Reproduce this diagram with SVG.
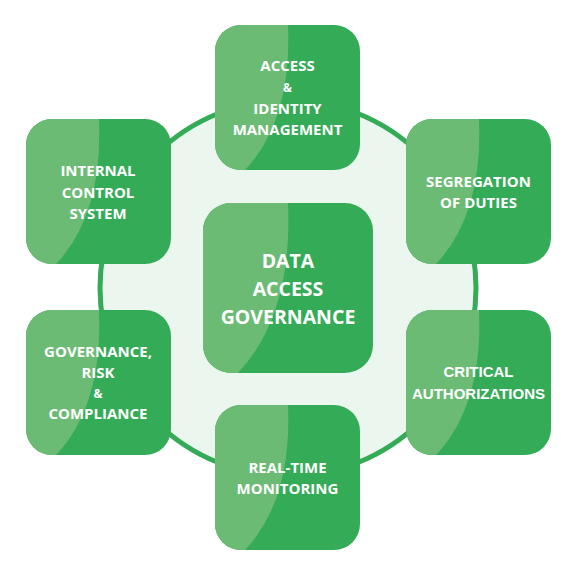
<svg xmlns="http://www.w3.org/2000/svg" xmlns:xlink="http://www.w3.org/1999/xlink" width="576" height="576" viewBox="0 0 576 576">
<style>
.box{fill:#34ab57}
.hl{fill:#6cbb75}
.ring{fill:#eaf6ee;stroke:#34ab57;stroke-width:5}
.t{fill:#ffffff;font-family:"Open Sans","DejaVu Sans",sans-serif;font-weight:700;font-size:15px;text-anchor:middle}
.amp{font-size:12px}
.c{font-family:"Open Sans","DejaVu Sans",sans-serif;font-weight:700;font-size:19.5px}
.a{font-family:"Liberation Sans",Arial,sans-serif;font-weight:700;font-size:15px}
</style>
<defs>
<path id="hl" class="hl" d="M26,0 H73 Q77,95 30,145 H26 A26,26 0 0 1 0,119 V26 A26,26 0 0 1 26,0 Z"/>
<rect id="bx" class="box" width="145" height="145" rx="26"/>
</defs>
<rect width="576" height="576" fill="#ffffff"/>
<g id="connectors">
<circle class="ring" cx="288" cy="288" r="188"/>
</g>
<g id="center" transform="translate(203,203)">
<rect class="box" width="170" height="170" rx="28"/>
<path class="hl" d="M28,0 H85 Q90,111 35,170 H28 A28,28 0 0 1 0,142 V28 A28,28 0 0 1 28,0 Z"/>
<text class="t c" x="85" y="65">DATA</text>
<text class="t c" x="85" y="93">ACCESS</text>
<text class="t c" x="85" y="120.5">GOVERNANCE</text>
</g>
<g id="access" transform="translate(215,25)">
<use xlink:href="#bx"/><use xlink:href="#hl"/>
<text class="t" x="72.5" y="46">ACCESS</text>
<text class="t amp" x="72.5" y="67">&amp;</text>
<text class="t" x="72.5" y="89">IDENTITY</text>
<text class="t" x="72.5" y="110">MANAGEMENT</text>
</g>
<g id="segregation" transform="translate(406,119)">
<use xlink:href="#bx"/><use xlink:href="#hl"/>
<text class="t" x="72.5" y="68">SEGREGATION</text>
<text class="t" x="72.5" y="89">OF DUTIES</text>
</g>
<g id="critical" transform="translate(406,310)">
<use xlink:href="#bx"/><use xlink:href="#hl"/>
<text class="t a" x="72.5" y="67">CRITICAL</text>
<text class="t a" x="72.5" y="89">AUTHORIZATIONS</text>
</g>
<g id="realtime" transform="translate(215,405)">
<use xlink:href="#bx"/><use xlink:href="#hl"/>
<text class="t" x="72.5" y="68">REAL-TIME</text>
<text class="t" x="72.5" y="89">MONITORING</text>
</g>
<g id="grc" transform="translate(26,310)">
<use xlink:href="#bx"/><use xlink:href="#hl"/>
<text class="t" x="72" y="47">GOVERNANCE,</text>
<text class="t" x="72" y="68">RISK</text>
<text class="t amp" x="72" y="88">&amp;</text>
<text class="t" x="72" y="109">COMPLIANCE</text>
</g>
<g id="internal" transform="translate(26,119)">
<use xlink:href="#bx"/><use xlink:href="#hl"/>
<text class="t" x="72" y="57">INTERNAL</text>
<text class="t" x="72" y="78.5">CONTROL</text>
<text class="t" x="72" y="100">SYSTEM</text>
</g>
</svg>
